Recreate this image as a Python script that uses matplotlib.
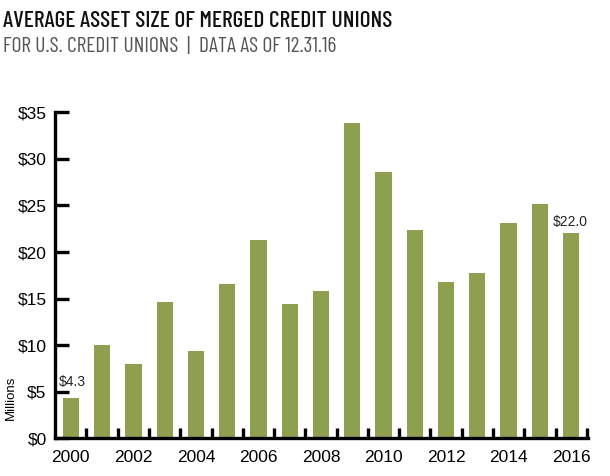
import matplotlib.pyplot as plt
from matplotlib import font_manager
import numpy as np

# Durchschnittliche Bilanzsumme fusionierter Credit Unions (Mio. $)
years = list(range(2000, 2017))
asset_size = [4.3, 10.0, 8.0, 14.6, 9.4, 16.6, 21.3, 14.4, 15.8, 33.9,
              28.6, 22.4, 16.8, 17.8, 23.1, 25.2, 22.0]
ytick_values = [0, 5, 10, 15, 20, 25, 30, 35]
ytick_labels = ['$0', '$5', '$10', '$15', '$20', '$25', '$30', '$35']
xtick_labels = [str(y) for y in years[::2]]

bar_color = '#8e9f50'

# schmale Schrift für Titel auswählen
installed = {f.name for f in font_manager.fontManager.ttflist}
title_font = 'Liberation Sans'
for cand in ['Barlow Condensed', 'Roboto Condensed', 'Asap Condensed']:
    if cand in installed:
        title_font = cand
        break


def fit_width(fig, txt, width_px):
    # Schriftgröße so anpassen, dass der Text die gewünschte Breite hat
    r = fig.canvas.get_renderer()
    w = txt.get_window_extent(renderer=r).width
    txt.set_fontsize(txt.get_fontsize() * width_px / w)


fig = plt.figure(figsize=(6.1, 4.76), dpi=100)
ax = fig.add_axes([0.090, 0.079, 0.874, 0.685])

x = np.arange(len(years))
ax.bar(x, asset_size, width=0.52, color=bar_color, zorder=1)

ax.set_xlim(-0.51, len(years) - 0.46)
ax.set_ylim(0, 35)

for s in ['top', 'right']:
    ax.spines[s].set_visible(False)
for s in ['left', 'bottom']:
    ax.spines[s].set_linewidth(2.4)
    ax.spines[s].set_zorder(3)

# y-Achse
ax.set_yticks(ytick_values)
ax.set_yticklabels(ytick_labels, fontsize=12.5, family='Liberation Sans')
ax.tick_params(axis='y', direction='in', length=10, width=2.4, pad=6)

# x-Achse: Beschriftung unter geraden Jahren, Striche zwischen den Balken
ax.set_xticks(x[::2])
ax.set_xticklabels(xtick_labels, fontsize=12.5, family='Liberation Sans')
ax.tick_params(axis='x', which='major', length=0, pad=8)
ax.set_xticks(np.arange(len(years)) + 0.5, minor=True)
ax.tick_params(axis='x', which='minor', direction='in', length=7, width=2.4)

# Wertebeschriftungen erster/letzter Balken
ax.text(x[0] - 0.37, asset_size[0] + 1.8, f'${asset_size[0]:.1f}',
        fontsize=10, family='Liberation Sans', color='#222222', ha='left', va='center')
ax.text(x[-1] + 0.54, asset_size[-1] + 1.2, f'${asset_size[-1]:.1f}',
        fontsize=10, family='Liberation Sans', color='#222222', ha='right', va='center')

fig.text(0.018, 0.165, 'Millions', rotation=90, fontsize=9.5, family='Liberation Sans',
         ha='center', va='center')

title = fig.text(0.005, 0.977, 'AVERAGE ASSET SIZE OF MERGED CREDIT UNIONS',
                 fontsize=16, fontweight=500, family=[title_font, 'DejaVu Sans'],
                 color='#111111', ha='left', va='top')
subtitle = fig.text(0.005, 0.922, 'FOR U.S. CREDIT UNIONS  |  DATA AS OF 12.31.16',
                    fontsize=13, fontweight=400, family=[title_font, 'DejaVu Sans'],
                    color='#555555', ha='left', va='top')
fit_width(fig, title, 389)
fit_width(fig, subtitle, 334)

plt.savefig('out.png', dpi=100)
plt.close()
